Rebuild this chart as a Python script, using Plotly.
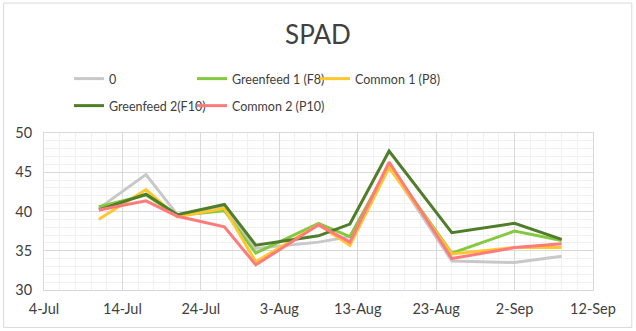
import plotly.graph_objects as go

dates = ["2019-07-11", "2019-07-17", "2019-07-21", "2019-07-27", "2019-07-31",
         "2019-08-08", "2019-08-12", "2019-08-17", "2019-08-25", "2019-09-02", "2019-09-08"]

s0 = [40.4, 44.7, 39.6, 40.6, 35.3, 36.1, 36.8, 45.8, 33.7, 33.5, 34.3]
greenfeed1 = [40.6, 42.1, 39.5, 40.1, 34.7, 38.5, 36.8, 45.9, 34.7, 37.5, 36.3]
common1 = [39.0, 42.8, 39.3, 40.4, 33.6, 38.3, 35.7, 45.6, 34.6, 35.4, 35.4]
greenfeed2 = [40.2, 42.2, 39.6, 40.9, 35.7, 36.9, 38.4, 47.7, 37.3, 38.5, 36.45]
common2 = [40.2, 41.35, 39.4, 38.05, 33.2, 38.3, 36.1, 46.3, 34.0, 35.4, 35.9]

x_ticks_start = "2019-07-04"
x_range = ["2019-07-04", "2019-09-12"]
y_range = [30, 50]

W, H = 636, 331
L, R, T, B = 44.3, 43.3, 132.7, 41
pw, ph = W - L - R, H - T - B

DAY = 86400000
FONT = "Lato"

# (name, values, colour, legend id, legend text x (px), legend row y (px))
series = [
    ("0", s0, "#C8C8C8", "legend", 108, 78),
    ("Greenfeed 1 (F8)", greenfeed1, "#84C940", "legend2", 231, 78),
    ("Common 1 (P8)", common1, "#FFC62E", "legend3", 354, 78),
    ("Greenfeed 2(F10)", greenfeed2, "#4F7D2A", "legend4", 108, 105),
    ("Common 2 (P10)", common2, "#FF7B7B", "legend5", 231, 105),
]

fig = go.Figure()
legends = {}
for name, vals, col, lg, tx, ty in series:
    fig.add_trace(go.Scatter(x=dates, y=vals, name=name, mode="lines",
                             line=dict(color=col, width=3), legend=lg))
    legends[lg] = dict(orientation="h", xref="container", yref="container",
                       xanchor="left", yanchor="middle",
                       x=(tx - 39) / W, y=1 - (ty + 1) / H,
                       font=dict(family=FONT, size=12.5, color="#404040"),
                       bgcolor="rgba(0,0,0,0)", itemwidth=30)

fig.update_layout(
    width=W, height=H,
    margin=dict(l=L, r=R, t=T, b=B, autoexpand=False),
    paper_bgcolor="white", plot_bgcolor="white",
    title=dict(text="SPAD", x=0.5, xanchor="center", y=1 - 35 / H, yanchor="middle",
               font=dict(family=FONT, size=26, color="#404040")),
    xaxis=dict(type="date", range=x_range, tick0=x_ticks_start, dtick=10 * DAY,
               tickformat="%-d-%b", showgrid=True, gridcolor="#D9D9D9", gridwidth=1,
               minor=dict(dtick=2 * DAY, showgrid=True, gridcolor="#F0F0F0", gridwidth=1),
               showline=True, linecolor="#D9D9D9", mirror=True,
               ticks="outside", ticklen=6, tickcolor="rgba(0,0,0,0)",
               tickfont=dict(family=FONT, size=14.5, color="#404040"), zeroline=False),
    yaxis=dict(range=y_range, dtick=5, tick0=30, showgrid=True, gridcolor="#D9D9D9",
               minor=dict(dtick=1, showgrid=True, gridcolor="#F0F0F0", gridwidth=1),
               showline=True, linecolor="#D9D9D9", mirror=True,
               ticks="outside", ticklen=8, tickcolor="rgba(0,0,0,0)",
               tickfont=dict(family=FONT, size=14.5, color="#404040"), zeroline=False),
    shapes=[dict(type="rect", xref="paper", yref="paper",
                 x0=(4 - L) / pw, x1=(631.5 - L) / pw,
                 y0=-(327.5 - (T + ph)) / ph, y1=1 + (T - 2.5) / ph,
                 line=dict(color="#D9D9D9", width=1), fillcolor="rgba(0,0,0,0)", layer="below")],
    showlegend=True,
    **legends,
)

fig.write_html("out.html", config={"displayModeBar": False},
               post_script="document.body.style.margin='0';")
